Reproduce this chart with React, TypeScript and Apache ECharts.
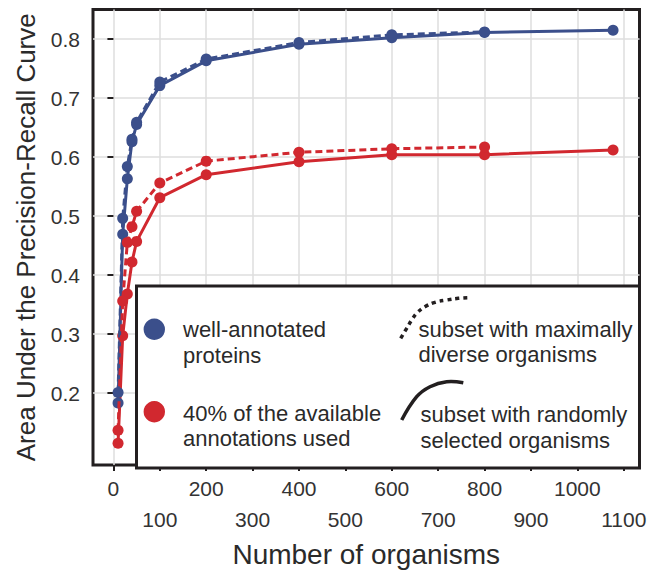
import React, { useEffect, useRef } from "react";
import * as echarts from "echarts";

// ---- data ----
const organisms = [10, 20, 30, 40, 50, 100, 200, 400, 600, 800];
const organismsAll = [10, 20, 30, 40, 50, 100, 200, 400, 600, 800, 1077];
// well-annotated proteins
const wellDiverse = [0.201, 0.496, 0.584, 0.63, 0.659, 0.727, 0.766, 0.794, 0.807, 0.812];
const wellRandom = [0.183, 0.469, 0.563, 0.626, 0.655, 0.721, 0.763, 0.791, 0.802, 0.811, 0.815];
// 40% of the available annotations used
const partDiverse = [0.137, 0.356, 0.455, 0.482, 0.508, 0.556, 0.593, 0.608, 0.614, 0.617];
const partRandom = [0.115, 0.297, 0.368, 0.422, 0.457, 0.531, 0.57, 0.592, 0.604, 0.604, 0.612];

const xTicks = [0, 100, 200, 300, 400, 500, 600, 700, 800, 900, 1000, 1100];
const yTicks = [0.2, 0.3, 0.4, 0.5, 0.6, 0.7, 0.8];

const BLUE = "#3b4f8b";
const RED = "#d1282f";
const DARK = "#231f20";
const FONT = "'Liberation Sans', Arial, Helvetica, sans-serif";

const pairs = (xs: number[], ys: number[]) => ys.map((y, i) => [xs[i], y]);

export default function App() {
  const ref = useRef<HTMLDivElement>(null);

  useEffect(() => {
    if (!ref.current) return;
    const chart = echarts.init(ref.current, undefined, { renderer: "svg" });

    const lineSeries = (name: string, data: number[][], color: string, dashed: boolean, z: number) => ({
      type: "line",
      name,
      data,
      symbol: "circle",
      symbolSize: 11,
      showSymbol: true,
      z,
      itemStyle: { color },
      lineStyle: { color, width: 3, type: dashed ? [7, 4] : "solid" },
      emphasis: { disabled: true },
    });

    const legendText = (text: string, x: number, y: number) => ({
      type: "text",
      z: 101,
      style: {
        text,
        x,
        y,
        fill: "#2a2a2a",
        font: `22px ${FONT}`,
        textAlign: "left",
        textVerticalAlign: "middle",
      },
    });

    chart.setOption({
      animation: false,
      grid: {
        left: 93,
        right: 10.5,
        top: 9.5,
        bottom: 105,
        show: true,
        borderColor: DARK,
        borderWidth: 3,
        backgroundColor: "transparent",
      },
      xAxis: {
        type: "value",
        min: -44,
        max: 1134,
        name: "Number of organisms",
        nameLocation: "middle",
        nameGap: 75,
        nameTextStyle: { fontFamily: FONT, fontSize: 28, color: "#2a2a2a" },
        axisLine: { show: false },
        axisTick: { show: true, length: 6, customValues: xTicks, lineStyle: { color: DARK, width: 2 } },
        axisLabel: {
          customValues: xTicks,
          margin: 7.5,
          fontFamily: FONT,
          fontSize: 21,
          lineHeight: 31,
          color: "#333",
          formatter: (v: number) => (Math.round(v) % 200 === 0 ? `${Math.round(v)}` : `\n${Math.round(v)}`),
        },
        splitLine: { show: true, lineStyle: { color: "#dedede", width: 1.5 } },
      },
      yAxis: {
        type: "value",
        min: 0.078,
        max: 0.85,
        name: "Area Under the Precision-Recall Curve",
        nameLocation: "middle",
        nameGap: 54,
        nameTextStyle: { fontFamily: FONT, fontSize: 26, color: "#2a2a2a" },
        axisLine: { show: false },
        axisTick: { show: true, length: 6, customValues: yTicks, lineStyle: { color: DARK, width: 2 } },
        axisLabel: {
          customValues: yTicks,
          margin: 13,
          fontFamily: FONT,
          fontSize: 21,
          color: "#333",
          formatter: (v: number) => v.toFixed(1),
        },
        splitLine: { show: true, lineStyle: { color: "#dedede", width: 1.5 } },
      },
      series: [
        lineSeries("well-annotated proteins – randomly selected organisms", pairs(organismsAll, wellRandom), BLUE, false, 3),
        lineSeries("well-annotated proteins – maximally diverse organisms", pairs(organisms, wellDiverse), BLUE, true, 4),
        lineSeries("40% of annotations – randomly selected organisms", pairs(organismsAll, partRandom), RED, false, 3),
        lineSeries("40% of annotations – maximally diverse organisms", pairs(organisms, partDiverse), RED, true, 4),
      ],
      graphic: [
        {
          type: "rect",
          z: 100,
          shape: { x: 136.5, y: 286, width: 503, height: 182 },
          style: { fill: "#ffffff", stroke: DARK, lineWidth: 3 },
        },
        { type: "circle", z: 101, shape: { cx: 154.3, cy: 329.3, r: 10.7 }, style: { fill: BLUE } },
        { type: "circle", z: 101, shape: { cx: 154.3, cy: 411.7, r: 10.7 }, style: { fill: RED } },
        legendText("well-annotated", 183, 329.7),
        legendText("proteins", 183, 355.7),
        legendText("40% of the available", 183, 413),
        legendText("annotations used", 183, 438.4),
        legendText("subset with maximally", 418.5, 329),
        legendText("diverse organisms", 418.5, 354.7),
        legendText("subset with randomly", 420.5, 414),
        legendText("selected organisms", 420.5, 440),
        {
          type: "polyline",
          z: 101,
          shape: {
            smooth: 0.4,
            points: [
              [400.7, 338.3], [406.7, 328.3], [411.7, 320], [416.7, 313.3], [425, 306.7],
              [435, 302.3], [446.7, 300], [458.3, 298.3], [467.3, 297.7],
            ],
          },
          style: { stroke: DARK, lineWidth: 3.5, lineDash: [4, 4], fill: "none" },
        },
        {
          type: "polyline",
          z: 101,
          shape: {
            smooth: 0.4,
            points: [[401.7, 420], [416.7, 396.7], [430, 386.7], [446.7, 381.7], [463.3, 382.7]],
          },
          style: { stroke: DARK, lineWidth: 3.5, fill: "none" },
        },
      ],
    });

    return () => chart.dispose();
  }, []);

  return (
    <div
      ref={ref}
      style={{ position: "absolute", left: 0, top: 0, width: 650, height: 573, background: "#fff" }}
    />
  );
}
